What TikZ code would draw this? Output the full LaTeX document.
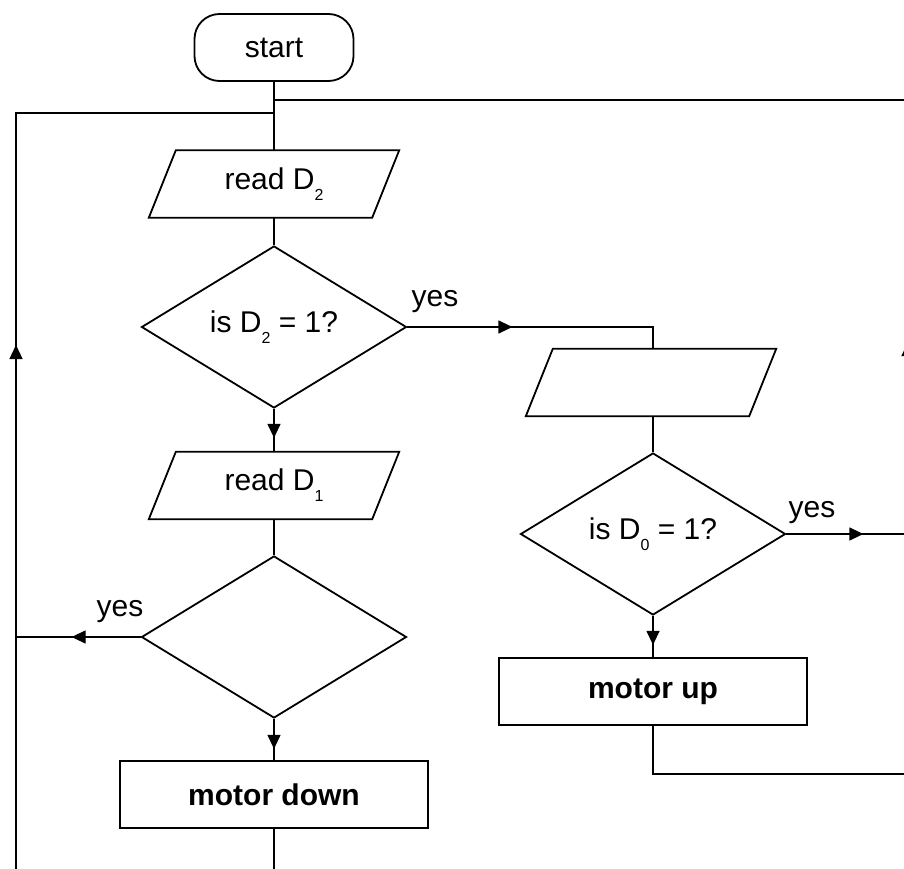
\documentclass[tikz,border=0pt]{standalone}
\usepackage{fontspec}
\setmainfont{Liberation Sans}
\usetikzlibrary{shapes.geometric,arrows.meta,decorations.markings}
\newcommand{\dsub}[1]{\raisebox{-11pt}{\fontsize{16}{16}\selectfont #1}}

\begin{document}
\begin{tikzpicture}[x=1pt,y=-1pt]
		\tikzstyle{every node}+=[inner sep=0pt, font=\fontsize{30}{34}\selectfont]
		\tikzstyle{term}=[draw, line width=1.8pt, rounded corners=25pt, minimum width=159, minimum height=67]
		\tikzstyle{io}=[minimum width=250, minimum height=67, append after command={\pgfextra{\draw[line width=1.8pt] (\tikzlastnode.south west) -- ([xshift=27pt]\tikzlastnode.north west) -- (\tikzlastnode.north east) -- ([xshift=-27pt]\tikzlastnode.south east) -- cycle;}}]
		\tikzstyle{test}=[draw, line width=1.8pt, diamond, minimum width=265, minimum height=162]
		\tikzstyle{box}=[draw, line width=1.8pt, minimum width=308, minimum height=67, font=\fontsize{30}{34}\selectfont\bfseries]
		\tikzstyle{line}=[line width=1.2pt]
		\tikzset{midarrow/.style={postaction={decorate}, decoration={markings, mark=at position #1 with {\arrow{Triangle[length=14pt,width=13pt]}}}}}
		\useasboundingbox (0,0) rectangle (904,869);
		\clip (0,0) rectangle (904,869);
		% left column
		\node [term] (start) at (274,47.5) {start};
		\node [io] (rd2) at (274,184) {read D\dsub{2}};
		\node [test] (d2eq) at (274,327) {is D\dsub{2} = 1?};
		\node [io] (rd1) at (274,485.5) {read D\dsub{1}};
		\node [test] (d1eq) at (274,637) {};
		\node [box] (down) at (274,794.5) {motor down};
		% right column
		\node [io] (rd0) at (651,382.5) {};
		\node [test] (d0eq) at (653,534) {is D\dsub{0} = 1?};
		\node [box] (up) at (653,691.5) {motor up};
		% labels
		\node (yes2) at (435,302) {yes};
		\node (yes1) at (120,612) {yes};
		\node (yes0) at (812,513) {yes};
		% loop corners
		\coordinate (lb) at (16,880);
		\coordinate (lt) at (16,113);
		\coordinate (rb) at (908,880);
		\coordinate (rt) at (908,100);
		\coordinate (rm) at (908,774);
		\draw [line] (start) -- (rd2);
		\draw [line] (start |- rt) -- (rt);
		\draw [line] (rd2) -- (d2eq);
		\draw [line, midarrow=105pt] (d2eq.east) -- (d2eq.east -| d0eq) -- (d0eq |- rd0.north);
		\draw [line, midarrow=29pt] (d2eq.south) -- (rd1.north);
		\draw [line] (rd1) -- (d1eq);
		\draw [line, midarrow=69pt] (d1eq.west) -- (d1eq.west -| lb);
		\draw [line, midarrow=30pt] (d1eq.south) -- (down.north);
		\draw [line] (down.south) -- (down.south |- lb);
		\draw [line, midarrow=535pt] (lb) -- (lt) -- (lt -| start);
		\draw [line] (d0eq |- rd0.south) -- (d0eq);
		\draw [line, midarrow=77pt] (d0eq.east) -- (d0eq.east -| rb);
		\draw [line, midarrow=29pt] (d0eq.south) -- (up.north);
		\draw [line] (up.south) |- (rm);
		\draw [line, midarrow=538pt] (rb) -- (rt);
\end{tikzpicture}
\end{document}
